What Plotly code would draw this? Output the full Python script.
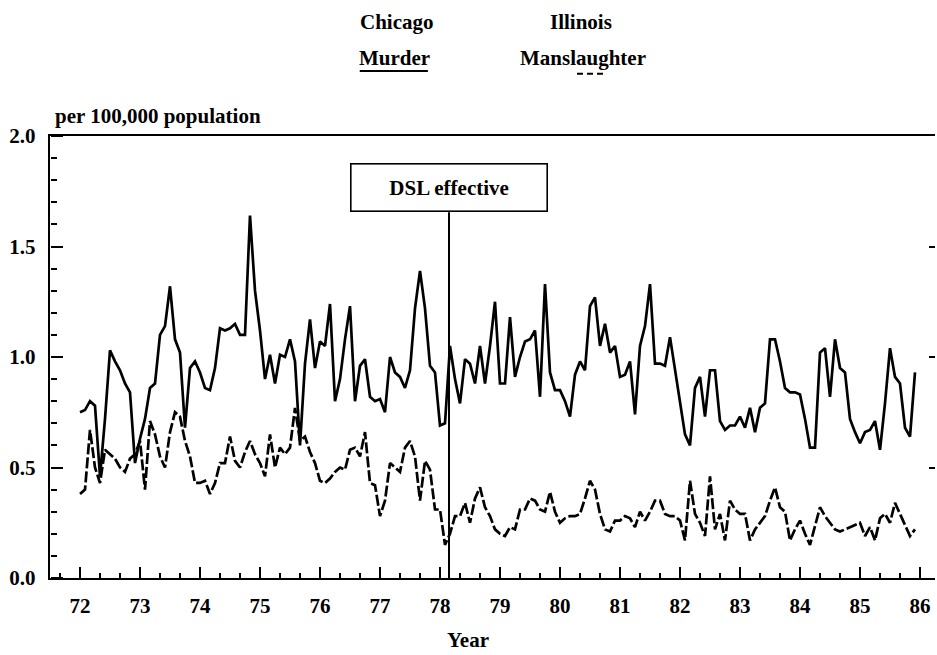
import numpy as np
import plotly.graph_objects as go

# ---- data (monthly, Jan 1972 - Dec 1985), per 100,000 population ----
murder = [
    0.75, 0.76, 0.80, 0.78, 0.46, 0.72, 1.03, 0.98, 0.94, 0.88, 0.84, 0.52,   # 72
    0.63, 0.72, 0.86, 0.88, 1.10, 1.14, 1.32, 1.08, 1.02, 0.68, 0.95, 0.98,   # 73
    0.93, 0.86, 0.85, 0.95, 1.13, 1.12, 1.13, 1.15, 1.10, 1.10, 1.64, 1.30,   # 74
    1.12, 0.90, 1.01, 0.88, 1.01, 1.00, 1.08, 0.98, 0.60, 0.97, 1.17, 0.95,   # 75
    1.07, 1.05, 1.24, 0.80, 0.90, 1.08, 1.23, 0.80, 0.96, 0.99, 0.82, 0.80,   # 76
    0.81, 0.75, 1.00, 0.93, 0.91, 0.86, 0.94, 1.22, 1.39, 1.22, 0.96, 0.93,   # 77
    0.69, 0.70, 1.05, 0.90, 0.79, 0.99, 0.97, 0.88, 1.05, 0.88, 1.05, 1.25,   # 78
    0.88, 0.88, 1.18, 0.91, 1.00, 1.07, 1.08, 1.12, 0.82, 1.33, 0.93, 0.85,   # 79
    0.85, 0.80, 0.73, 0.92, 0.98, 0.94, 1.23, 1.27, 1.05, 1.15, 1.02, 1.05,   # 80
    0.91, 0.92, 0.98, 0.74, 1.05, 1.14, 1.33, 0.97, 0.97, 0.96, 1.09, 0.94,   # 81
    0.78, 0.65, 0.60, 0.86, 0.91, 0.73, 0.94, 0.94, 0.71, 0.67, 0.69, 0.69,   # 82
    0.73, 0.68, 0.77, 0.66, 0.77, 0.79, 1.08, 1.08, 0.98, 0.86, 0.84, 0.84,   # 83
    0.83, 0.72, 0.59, 0.59, 1.02, 1.04, 0.82, 1.08, 0.95, 0.93, 0.72, 0.66,   # 84
    0.61, 0.66, 0.67, 0.71, 0.58, 0.79, 1.04, 0.91, 0.88, 0.68, 0.64, 0.93,   # 85
]
manslaughter = [
    0.38, 0.40, 0.67, 0.50, 0.43, 0.58, 0.56, 0.54, 0.50, 0.48, 0.54, 0.56,   # 72
    0.62, 0.40, 0.71, 0.65, 0.55, 0.50, 0.66, 0.75, 0.73, 0.62, 0.55, 0.43,   # 73
    0.43, 0.44, 0.38, 0.43, 0.52, 0.52, 0.64, 0.53, 0.50, 0.57, 0.62, 0.56,   # 74
    0.52, 0.46, 0.65, 0.50, 0.59, 0.56, 0.59, 0.77, 0.62, 0.64, 0.57, 0.52,   # 75
    0.44, 0.43, 0.45, 0.48, 0.50, 0.49, 0.58, 0.59, 0.55, 0.66, 0.43, 0.42,   # 76
    0.28, 0.35, 0.52, 0.50, 0.48, 0.59, 0.62, 0.55, 0.35, 0.53, 0.49, 0.31,   # 77
    0.31, 0.15, 0.20, 0.28, 0.28, 0.34, 0.25, 0.36, 0.41, 0.32, 0.28, 0.22,   # 78
    0.20, 0.19, 0.23, 0.22, 0.31, 0.31, 0.36, 0.35, 0.31, 0.30, 0.39, 0.30,   # 79
    0.25, 0.27, 0.28, 0.28, 0.29, 0.36, 0.44, 0.40, 0.29, 0.22, 0.21, 0.26,   # 80
    0.26, 0.28, 0.27, 0.23, 0.30, 0.26, 0.30, 0.35, 0.35, 0.29, 0.28, 0.28,   # 81
    0.26, 0.17, 0.44, 0.29, 0.25, 0.19, 0.46, 0.22, 0.29, 0.17, 0.35, 0.31,   # 82
    0.29, 0.29, 0.17, 0.22, 0.25, 0.28, 0.35, 0.41, 0.32, 0.30, 0.17, 0.22,   # 83
    0.26, 0.20, 0.15, 0.24, 0.32, 0.28, 0.25, 0.22, 0.21, 0.22, 0.23, 0.24,   # 84
    0.25, 0.19, 0.23, 0.17, 0.27, 0.29, 0.25, 0.34, 0.29, 0.24, 0.19, 0.22,   # 85
]
start_year = 72
year_ticks = list(range(72, 87))
year_labels = [str(y) for y in year_ticks]
y_ticks = [0.0, 0.5, 1.0, 1.5, 2.0]
right_ticks = [0.5, 1.0, 1.5]
dsl_date = 78.15          # DSL effective (early 1978)

t = start_year + np.arange(len(murder)) / 12.0
X_RANGE = [71.5, 86.25]
Y_RANGE = [0, 2.0]

FONT = "Liberation Serif"
FS = 21
fig = go.Figure()
fig.add_trace(go.Scatter(x=t, y=murder, mode="lines", name="Murder",
                         line=dict(color="black", width=2.7)))
fig.add_trace(go.Scatter(x=t, y=manslaughter, mode="lines", name="Manslaughter",
                         line=dict(color="black", width=2.7, dash="11px,3px")))
# invisible helper traces so the tick-only axes are drawn
for xa, ya in [("x2", "y"), ("x", "y2"), ("x", "y3")]:
    fig.add_trace(go.Scatter(x=[t[0]], y=[murder[0]], xaxis=xa, yaxis=ya, mode="markers",
                             marker=dict(opacity=0), showlegend=False, hoverinfo="skip"))

tick_style = dict(tickwidth=2, tickcolor="black", showgrid=False, zeroline=False,
                  showline=False, showticklabels=False)

fig.update_layout(
    width=937, height=655,
    margin=dict(l=50, r=2, t=136, b=77),
    paper_bgcolor="white", plot_bgcolor="rgba(0,0,0,0)",
    showlegend=False,
    font=dict(family=FONT, size=FS, color="black"),
    # main axes: lines + labels
    xaxis=dict(
        range=X_RANGE, tickmode="array", tickvals=year_ticks, ticktext=year_labels,
        ticks="", showline=True, linewidth=2.4, linecolor="black", mirror=True,
        showgrid=False, zeroline=False, ticklabelstandoff=8,
        tickfont=dict(family=FONT, size=FS, color="black", weight="bold"),
    ),
    yaxis=dict(
        range=Y_RANGE, tickmode="array", tickvals=y_ticks, tickformat=".1f",
        ticks="", showline=True, linewidth=2.4, linecolor="black",
        showgrid=False, zeroline=False, ticklabelstandoff=8,
        tickfont=dict(family=FONT, size=FS, color="black", weight="bold"),
    ),
    # tick marks pointing into the frame
    xaxis2=dict(
        range=X_RANGE, overlaying="x", side="top", anchor="free", position=0,
        tickmode="array", tickvals=year_ticks, ticks="outside", ticklen=11,
        minor=dict(ticks="outside", ticklen=5, tickwidth=2, tickcolor="black",
                   dtick=1/3, tick0=72, showgrid=False),
        **tick_style,
    ),
    yaxis2=dict(
        range=Y_RANGE, overlaying="y", side="right", anchor="free", position=0,
        tickmode="array", tickvals=y_ticks, ticks="outside", ticklen=12,
        minor=dict(ticks="outside", ticklen=6, tickwidth=2, tickcolor="black",
                   dtick=0.1, tick0=0, showgrid=False),
        **tick_style,
    ),
    yaxis3=dict(
        range=Y_RANGE, overlaying="y", side="left", anchor="free", position=1,
        tickmode="array", tickvals=right_ticks, ticks="outside", ticklen=6,
        **tick_style,
    ),
)

# DSL effective marker line and box
fig.add_shape(type="line", xref="x", yref="y", x0=dsl_date, x1=dsl_date, y0=0, y1=1.655,
              line=dict(color="black", width=2))
fig.add_annotation(x=dsl_date, y=1.765, xref="x", yref="y", text="<b>DSL effective</b>",
                   showarrow=False, font=dict(family=FONT, size=FS, color="black"),
                   bordercolor="black", borderwidth=1.6, borderpad=4,
                   width=187, height=38, bgcolor="white")

# headings / legend text
heads = [("<b>Chicago</b>", 0.392, 1.258), ("<b>Illinois</b>", 0.600, 1.258),
         ("<b>Murder</b>", 0.389, 1.176), ("<b>Manslaughter</b>", 0.602, 1.176)]
for txt, xp, yp in heads:
    fig.add_annotation(x=xp, y=yp, xref="paper", yref="paper", text=txt, showarrow=False,
                       xanchor="center", yanchor="middle",
                       font=dict(family=FONT, size=FS, color="black"))
# legend underlines (solid for murder, dashed for manslaughter)
fig.add_shape(type="line", xref="paper", yref="paper", x0=0.350, x1=0.427, y0=1.147, y1=1.147,
              line=dict(color="black", width=2))
fig.add_shape(type="line", xref="paper", yref="paper", x0=0.5955, x1=0.6260, y0=1.141, y1=1.141,
              line=dict(color="black", width=2, dash="6px,4px"))

fig.add_annotation(x=0.003, y=1.045, xref="paper", yref="paper", text="<b>per 100,000 population</b>",
                   showarrow=False, xanchor="left", yanchor="middle",
                   font=dict(family=FONT, size=FS, color="black"))
fig.add_annotation(x=0.472, y=-0.14, xref="paper", yref="paper", text="<b>Year</b>",
                   showarrow=False, xanchor="center", yanchor="middle",
                   font=dict(family=FONT, size=FS, color="black"))

fig.write_html("out.html", config={"displayModeBar": False},
               post_script="document.body.style.margin='0';document.body.style.overflow='hidden';")
